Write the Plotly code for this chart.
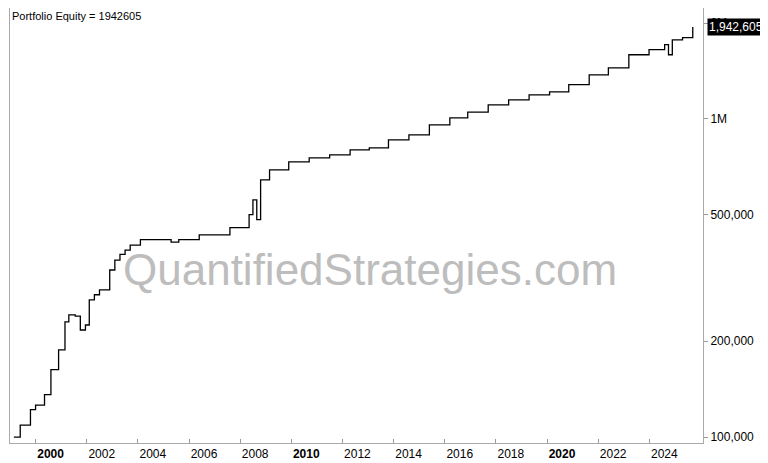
import plotly.graph_objects as go
import math

# equity curve (decimal year, portfolio value)
years = [1999.15, 1999.4, 1999.8, 2000.0, 2000.35, 2000.6, 2000.9, 2001.15, 2001.3, 2001.55,
         2001.75, 2001.95, 2002.1, 2002.3, 2002.5, 2002.9, 2003.1, 2003.3, 2003.5, 2003.7,
         2004.1, 2004.9, 2005.3, 2005.6, 2006.4, 2007.6, 2008.35, 2008.5, 2008.65, 2008.8,
         2009.15, 2009.9, 2010.7, 2011.5, 2012.3, 2013.05, 2013.8, 2014.6, 2015.4, 2016.2,
         2016.9, 2017.7, 2018.5, 2019.3, 2020.1, 2020.85, 2021.65, 2022.4, 2023.2, 2023.99,
         2024.6, 2024.75, 2024.9, 2025.3, 2025.7]
equity = [100000, 109000, 122000, 126000, 136000, 163000, 188000, 230000, 242000, 240000,
          217000, 225000, 270000, 280000, 290000, 335000, 360000, 375000, 387000, 401000,
          417000, 417000, 410000, 417000, 432000, 455000, 500000, 556000, 482000, 643000,
          691000, 732000, 754000, 770000, 799000, 811000, 859000, 890000, 957000, 1007000,
          1050000, 1106000, 1147000, 1190000, 1216000, 1280000, 1375000, 1447000, 1590000, 1650000,
          1710000, 1590000, 1770000, 1800000, 1942605]

ytick_vals = [100000, 200000, 500000, 1000000, 2000000]
ytick_text = ["100,000", "200,000", "500,000", "1M", "2M"]
xtick_vals = list(range(2000, 2026, 2))
xtick_text = ["<b>%d</b>" % y if y % 10 == 0 else str(y) for y in xtick_vals]

fig = go.Figure()
fig.add_trace(go.Scatter(x=years, y=equity, mode="lines", line=dict(color="black", width=1.3, shape="hv")))

fig.add_annotation(text="QuantifiedStrategies.com", xref="paper", yref="paper", x=0.52, y=0.40,
                   showarrow=False, font=dict(size=44, color="#bdbdbd", family="Liberation Sans"))
fig.add_annotation(text="Portfolio Equity = 1942605", xref="paper", yref="paper", x=0.0, y=1.0,
                   xanchor="left", yanchor="top", showarrow=False,
                   font=dict(size=11, color="black", family="Liberation Sans"))
fig.add_annotation(text="1,942,605", xref="paper", yref="y", x=1.0, y=math.log10(equity[-1]),
                   xanchor="left", showarrow=False, bgcolor="black", xshift=4,
                   font=dict(size=12, color="white", family="Liberation Sans"))

fig.update_layout(
    width=760, height=455, plot_bgcolor="white", paper_bgcolor="white",
    margin=dict(l=2, r=65, t=0, b=20, autoexpand=False), showlegend=False,
    font=dict(family="Liberation Sans", size=12, color="black"),
    xaxis=dict(range=[1999.0, 2026.1], tickvals=xtick_vals, ticktext=xtick_text,
               ticks="inside", ticklen=4, tickcolor="#999", ticklabelshift=15,
               showgrid=False, showline=True, linecolor="#aaa", mirror=True, zeroline=False),
    yaxis=dict(type="log", side="right", range=[math.log10(95800), math.log10(2230000)],
               tickvals=ytick_vals, ticktext=ytick_text, ticks="outside", ticklen=4,
               tickcolor="#999", showgrid=False, showline=True, linecolor="#aaa", mirror=True),
)

fig.write_html("out.html")
